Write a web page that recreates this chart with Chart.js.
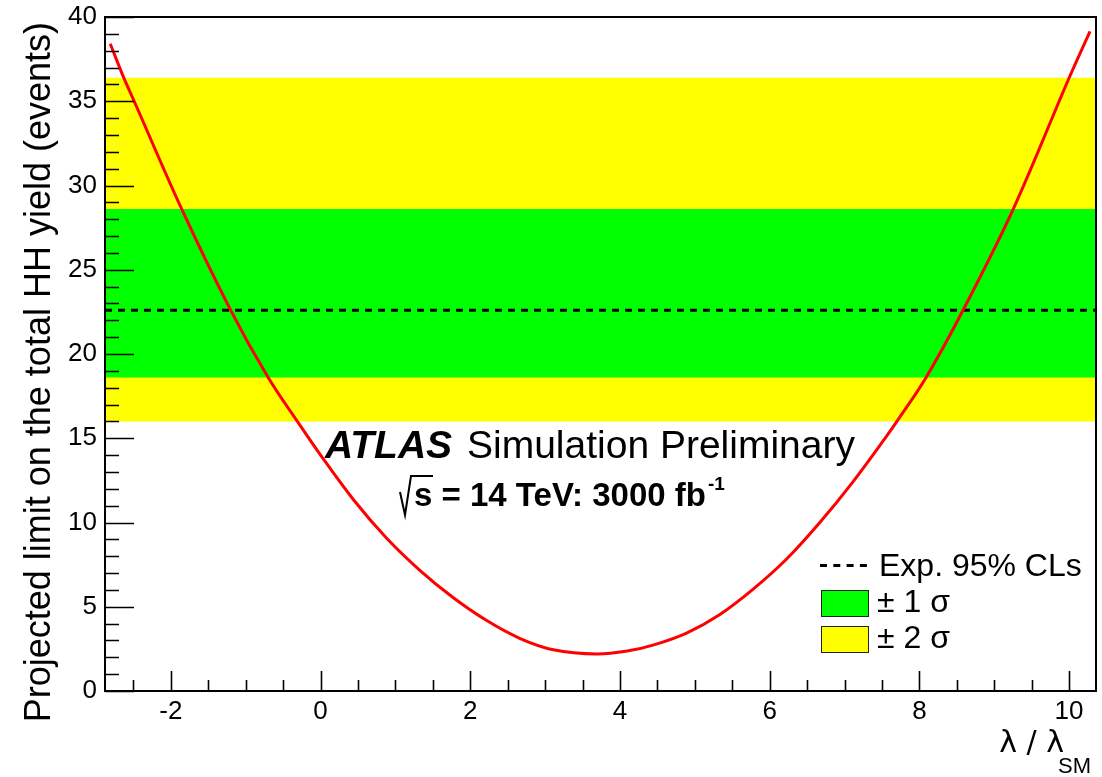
<!DOCTYPE html>
<html>
<head>
<meta charset="utf-8">
<script src="https://cdn.jsdelivr.net/npm/chart.js@4.4.1/dist/chart.umd.min.js"></script>
<style>
  html, body { margin: 0; padding: 0; background: #fff; }
  #wrap { width: 1102px; height: 777px; position: relative; }
</style>
</head>
<body>
<div id="wrap"><canvas id="c" width="1102" height="777"></canvas></div>
<script>
// Projected limit on the total HH yield versus lambda / lambda_SM
const lambdaRatio = [-2.81, -2.63, -2.49, -1.85, -1.20, -0.70, -0.31, 0.00, 0.44, 0.88,
                     1.33, 1.77, 2.22, 2.66, 3.11, 3.69, 4.13, 4.44, 4.89, 5.33,
                     5.78, 6.23, 6.67, 7.11, 7.56, 7.70, 8.09, 8.58, 9.25, 10.00, 10.28];
const yieldLimit  = [38.41, 36.40, 35.00, 28.55, 22.59, 18.60, 16.00, 14.00, 11.35, 9.08,
                     7.15, 5.55, 4.18, 3.13, 2.45, 2.20, 2.40, 2.72, 3.44, 4.53,
                     6.05, 7.85, 10.00, 12.40, 15.11, 16.00, 18.61, 22.57, 28.56, 36.38, 39.15];

// Expected 95% CL limit and its +-1 sigma / +-2 sigma bands (events)
const expLimit   = 22.6;
const band1Sigma = [18.6, 28.6];
const band2Sigma = [16.0, 36.4];

// Axis ranges and labelled ticks
const xRange = [-2.88, 10.36];
const yRange = [0, 40];
const xTickValues = [-2, 0, 2, 4, 6, 8, 10];
const yTickValues = [0, 5, 10, 15, 20, 25, 30, 35, 40];
const xMinorStep = 0.5;
const yMinorStep = 1;

const FONT = "'Liberation Sans', Arial, Helvetica, sans-serif";
const YELLOW = '#ffff00';
const GREEN = '#00ff00';

const flat = (y) => [{ x: xRange[0], y: y }, { x: xRange[1], y: y }];
const curve = lambdaRatio.map((x, i) => ({ x: x, y: yieldLimit[i] }));

// Inward tick marks, frame, titles, ATLAS label and legend
const decorations = {
  id: 'decorations',
  afterDatasetsDraw(chart) {
    const { ctx, chartArea: a, scales: { x, y } } = chart;
    ctx.save();
    ctx.strokeStyle = '#000';
    ctx.lineWidth = 1.6;
    ctx.beginPath();
    // y ticks (left axis, pointing into the frame)
    for (let v = yRange[0]; v <= yRange[1] + 1e-9; v += yMinorStep) {
      const p = Math.round(y.getPixelForValue(v)) + 0.5;
      const major = yTickValues.some(t => Math.abs(t - v) < 1e-6);
      ctx.moveTo(a.left, p);
      ctx.lineTo(a.left + (major ? 29 : 14), p);
    }
    // x ticks (bottom axis, pointing into the frame)
    const start = Math.ceil(xRange[0] / xMinorStep) * xMinorStep;
    for (let v = start; v <= xRange[1] + 1e-9; v += xMinorStep) {
      const p = Math.round(x.getPixelForValue(v)) + 0.5;
      const major = xTickValues.some(t => Math.abs(t - v) < 1e-6);
      ctx.moveTo(p, a.bottom);
      ctx.lineTo(p, a.bottom - (major ? 20 : 11));
    }
    ctx.stroke();
    // frame
    ctx.lineWidth = 2;
    ctx.strokeRect(a.left, a.top, a.right - a.left, a.bottom - a.top);
    ctx.restore();
  },
  afterDraw(chart) {
    const { ctx } = chart;
    ctx.save();
    ctx.fillStyle = '#000';
    ctx.textBaseline = 'alphabetic';

    // y axis title
    ctx.save();
    ctx.translate(50, 22);
    ctx.rotate(-Math.PI / 2);
    ctx.textAlign = 'right';
    ctx.font = `36px ${FONT}`;
    ctx.fillText('Projected limit on the total HH yield (events)', 0, 0);
    ctx.restore();

    // x axis title
    ctx.textAlign = 'right';
    ctx.font = `30px 'DejaVu Sans', ${FONT}`;
    ctx.fillText('\u03bb / \u03bb', 1064, 752);
    ctx.textAlign = 'left';
    ctx.font = `22px ${FONT}`;
    ctx.fillText('SM', 1058, 773);

    // ATLAS label
    ctx.font = `italic bold 39px ${FONT}`;
    ctx.fillText('ATLAS', 325, 458);
    ctx.font = `39px ${FONT}`;
    ctx.fillText('Simulation Preliminary', 467, 458);

    // sqrt(s) line
    ctx.strokeStyle = '#000';
    ctx.lineWidth = 2;
    ctx.beginPath();
    ctx.moveTo(400, 492);
    ctx.lineTo(405, 515);
    ctx.lineTo(411, 476);
    ctx.lineTo(433, 476);
    ctx.stroke();
    ctx.font = `bold 33px ${FONT}`;
    const line2 = 's = 14 TeV: 3000 fb';
    ctx.fillText(line2, 414, 506);
    const w2 = ctx.measureText(line2).width;
    ctx.font = `bold 19px ${FONT}`;
    ctx.fillText('-1', 414 + w2 + 2, 490);

    // legend
    ctx.lineWidth = 3;
    ctx.setLineDash([7, 6.3]);
    ctx.beginPath();
    ctx.moveTo(820, 565.5);
    ctx.lineTo(868, 565.5);
    ctx.stroke();
    ctx.setLineDash([]);
    ctx.font = `32px ${FONT}`;
    ctx.fillText('Exp. 95% CLs', 879, 576);

    ctx.lineWidth = 1;
    ctx.strokeStyle = '#222';
    ctx.fillStyle = GREEN;
    ctx.fillRect(821, 590, 47, 26);
    ctx.strokeRect(821.5, 590.5, 47, 26);
    ctx.fillStyle = YELLOW;
    ctx.fillRect(821, 626, 47, 26);
    ctx.strokeRect(821.5, 626.5, 47, 26);
    ctx.fillStyle = '#000';
    ctx.fillText('\u00b1 1 \u03c3', 877, 612);
    ctx.fillText('\u00b1 2 \u03c3', 877, 648);
    ctx.restore();
  }
};

new Chart(document.getElementById('c'), {
  type: 'scatter',
  data: {
    datasets: [
      { label: 'limit', data: curve, showLine: true, borderColor: '#ff0000', borderWidth: 3,
        pointRadius: 0, tension: 0.35, fill: false, order: 0 },
      { label: 'Exp. 95% CLs', data: flat(expLimit), showLine: true, borderColor: '#000',
        borderWidth: 3, borderDash: [7, 6], pointRadius: 0, fill: false, order: 1 },
      { label: '+1 sigma', data: flat(band1Sigma[1]), showLine: true, borderWidth: 0,
        borderColor: 'rgba(0,0,0,0)', backgroundColor: GREEN, pointRadius: 0, fill: '+1', order: 2 },
      { label: '-1 sigma', data: flat(band1Sigma[0]), showLine: true, borderWidth: 0,
        borderColor: 'rgba(0,0,0,0)', pointRadius: 0, fill: false, order: 2 },
      { label: '+2 sigma', data: flat(band2Sigma[1]), showLine: true, borderWidth: 0,
        borderColor: 'rgba(0,0,0,0)', backgroundColor: YELLOW, pointRadius: 0, fill: '+1', order: 3 },
      { label: '-2 sigma', data: flat(band2Sigma[0]), showLine: true, borderWidth: 0,
        borderColor: 'rgba(0,0,0,0)', pointRadius: 0, fill: false, order: 3 }
    ]
  },
  options: {
    responsive: false,
    animation: false,
    devicePixelRatio: 1,
    layout: { padding: { left: 0, top: 17, right: 6, bottom: 0 } },
    plugins: { legend: { display: false }, tooltip: { enabled: false } },
    scales: {
      x: {
        type: 'linear', min: xRange[0], max: xRange[1],
        grid: { display: false, drawTicks: false }, border: { display: false },
        afterBuildTicks: (s) => { s.ticks = xTickValues.map(v => ({ value: v })); },
        afterFit: (s) => { s.height = 86; s.paddingLeft = 0; s.paddingRight = 0; },
        ticks: { font: { family: FONT, size: 26 }, color: '#000', padding: 5,
                 maxRotation: 0, autoSkip: false, callback: (v) => String(v) }
      },
      y: {
        type: 'linear', min: yRange[0], max: yRange[1],
        grid: { display: false, drawTicks: false }, border: { display: false },
        afterBuildTicks: (s) => { s.ticks = yTickValues.map(v => ({ value: v })); },
        afterFit: (s) => { s.width = 105; s.paddingTop = 0; s.paddingBottom = 0; },
        ticks: { font: { family: FONT, size: 26 }, color: '#000', padding: 8,
                 autoSkip: false, callback: (v) => String(v) }
      }
    }
  },
  plugins: [decorations]
});
</script>
</body>
</html>
